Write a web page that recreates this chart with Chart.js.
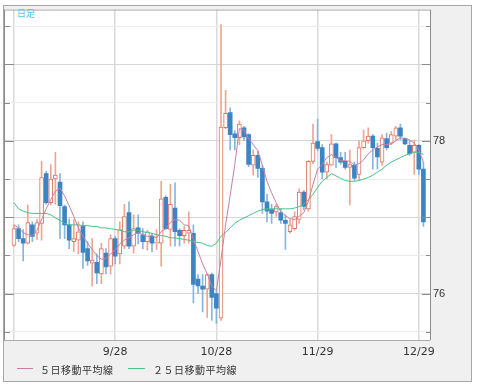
<!DOCTYPE html>
<html>
<head>
<meta charset="utf-8">
<script src="https://cdn.jsdelivr.net/npm/chart.js@4"></script>
<style>
html,body{margin:0;padding:0;background:#fff;}
#wrap{position:relative;width:478px;height:387px;}
#c{position:absolute;left:0;top:0;}
.lbl{position:absolute;font-family:"Noto Sans CJK JP";color:#333;white-space:nowrap;line-height:12px;}
.ln{position:absolute;height:1px;}
</style>
</head>
<body>
<div id="wrap">
  <canvas id="c" width="478" height="387"></canvas>
  <div class="lbl" style="left:17px;top:9px;font-size:9px;line-height:10px;color:#4fc0f0">日足</div>
  <div class="ln" style="left:17px;top:368px;width:16px;background:#c97fa2"></div>
  <div class="lbl" style="left:40px;top:364px;font-size:10px;letter-spacing:0.5px">５日移動平均線</div>
  <div class="ln" style="left:128px;top:368px;width:17px;background:#45c487"></div>
  <div class="lbl" style="left:153px;top:364px;font-size:10px;letter-spacing:0.5px">２５日移動平均線</div>
</div>
<script>
// daily candles, index 0 = first day on the chart
const opens = [76.63,76.85,76.72,76.66,76.90,76.79,76.92,77.57,77.19,77.50,
  77.46,77.14,76.90,76.68,76.70,76.88,76.59,76.40,76.41,76.26,
  76.53,76.36,76.72,76.52,76.62,77.06,76.62,76.86,76.77,76.68,
  76.75,76.66,76.66,77.26,76.84,77.12,76.83,76.76,76.79,76.79,
  76.19,76.10,76.06,76.25,76.00,75.68,78.17,78.37,78.09,78.04,
  78.17,78.08,77.68,77.81,77.64,77.20,77.10,77.07,77.06,76.96,
  76.81,76.85,76.97,77.33,77.11,77.73,77.99,77.91,77.59,77.68,
  77.96,77.78,77.73,77.65,77.68,77.56,77.91,78.00,78.06,77.90,
  77.72,78.03,77.97,78.06,78.17,78.03,77.94,77.85,77.94,77.63];
const highs = [76.90,76.90,76.84,77.16,76.94,76.97,77.73,77.60,77.69,77.85,
  77.57,77.16,76.98,76.97,76.94,76.94,76.68,76.72,76.52,76.66,
  76.59,76.77,76.75,76.94,77.17,77.20,77.03,77.03,76.85,76.83,
  76.79,76.84,77.47,77.28,77.43,77.45,76.85,76.88,77.07,76.90,
  76.25,76.25,76.26,76.27,76.04,79.52,78.66,78.43,78.13,78.26,
  78.19,78.09,77.88,77.87,77.68,77.30,77.17,77.17,77.11,77.03,
  76.97,77.07,77.37,77.35,77.74,78.22,78.28,77.95,77.72,78.08,
  77.97,77.85,77.85,77.88,77.72,78.00,78.14,78.17,78.08,77.97,
  78.08,78.10,78.12,78.19,78.22,78.04,78.00,78.01,77.95,77.72];
const lows = [76.62,76.68,76.43,76.65,76.68,76.71,76.70,77.17,77.16,77.17,
  76.72,76.72,76.59,76.55,76.52,76.33,76.37,76.10,76.13,76.13,
  76.26,76.26,76.39,76.39,76.59,76.59,76.53,76.65,76.59,76.57,
  76.55,76.58,76.36,76.84,76.62,76.62,76.62,76.66,76.66,75.88,
  76.00,75.76,75.69,75.65,75.61,75.65,78.16,77.88,77.88,77.95,
  78.00,77.66,77.55,77.52,77.05,76.94,76.92,77.01,76.92,76.58,
  76.79,76.83,76.92,77.10,77.08,77.70,77.87,77.50,77.50,77.68,
  77.65,77.69,77.63,77.16,77.48,77.48,77.90,77.97,77.63,77.63,
  77.68,77.88,77.95,78.01,78.01,77.95,77.81,77.56,77.56,76.88];
const closes = [76.85,76.72,76.66,76.93,76.75,76.93,77.52,77.19,77.50,77.55,
  77.15,76.90,76.70,76.72,76.81,76.54,76.43,76.44,76.27,76.59,
  76.35,76.72,76.49,76.84,77.01,76.62,76.85,76.79,76.68,76.81,
  76.66,76.67,77.24,76.85,77.17,76.81,76.76,76.83,76.83,76.12,
  76.10,76.06,76.25,75.95,75.81,78.18,78.36,78.08,78.04,78.22,
  78.05,77.69,77.81,77.64,77.20,77.08,77.05,77.14,76.96,76.92,
  76.90,77.01,77.33,77.14,77.73,77.97,77.90,77.59,77.69,77.96,
  77.78,77.72,77.65,77.69,77.51,77.91,78.00,78.06,77.91,77.79,
  78.04,77.91,78.08,78.17,78.06,77.96,77.83,77.94,77.63,76.94];

// moving averages as drawn
const ma5 = [76.90,76.86,76.80,76.77,76.76,76.83,76.97,77.11,77.23,77.34,
  77.38,77.28,77.15,77.01,76.86,76.75,76.66,76.58,76.50,76.45,
  76.46,76.52,76.57,76.65,76.70,76.73,76.77,76.80,76.77,76.75,
  76.76,76.73,76.81,76.85,76.93,76.97,76.96,76.90,76.89,76.71,
  76.55,76.39,76.26,76.10,76.04,76.45,76.90,77.29,77.69,78.16,
  78.14,78.03,77.95,77.87,77.68,77.47,77.32,77.19,77.07,77.02,
  76.98,76.97,77.01,77.06,77.21,77.43,77.63,77.69,77.78,77.82,
  77.78,77.74,77.74,77.73,77.68,77.70,77.75,77.83,77.88,77.92,
  77.95,77.95,77.96,78.00,78.04,78.03,78.01,77.97,77.88,77.72];
const ma25 = [77.19,77.11,77.08,77.06,77.05,77.05,77.05,77.05,77.03,76.99,
  76.96,76.92,76.90,76.90,76.90,76.89,76.89,76.88,76.88,76.86,
  76.86,76.85,76.84,76.83,76.81,76.81,76.83,76.83,76.81,76.80,
  76.79,76.77,76.76,76.75,76.73,76.73,76.72,76.71,76.70,76.68,
  76.67,76.66,76.63,76.62,76.66,76.75,76.80,76.86,76.92,76.96,
  76.99,77.02,77.05,77.08,77.10,77.11,77.11,77.11,77.11,77.11,
  77.11,77.12,77.14,77.17,77.23,77.30,77.39,77.47,77.52,77.57,
  77.54,77.51,77.48,77.47,77.47,77.48,77.50,77.52,77.55,77.59,
  77.63,77.68,77.72,77.75,77.78,77.81,77.83,77.85,77.85,77.82];

const tickIdx = [0, 22, 44, 66, 88];
const tickLabels = ["", "9/28", "10/28", "11/29", "12/29"];
const yTicks = [75.5, 76, 76.5, 77, 77.5, 78, 78.5, 79, 79.5];

const RED = "#e2735d", RED_W = "#eea595", BLUE = "#3d84c3", BLUE_W = "#86b5df";
const up = opens.map((o,i) => closes[i] >= o);

const wickData = opens.map((o,i) => ({x:i, y:[lows[i], highs[i]]}));
const bodyData = opens.map((o,i) => ({x:i, y:[o, closes[i]]}));

const frame = {
  id: "frame",
  beforeDraw(chart){
    const c = chart.ctx, a = chart.chartArea;
    c.save();
    c.fillStyle = "#fff"; c.fillRect(0,0,chart.width,chart.height);
    c.fillStyle = "#f0f0f0"; c.fillRect(3,5,468,376);
    c.fillStyle = "#fff"; c.fillRect(a.left,a.top,a.right-a.left,a.bottom-a.top);
    c.strokeStyle = "#a8a8a8"; c.lineWidth = 1;
    c.strokeRect(3.5,5.5,468,376);
    c.restore();
  },
  afterDraw(chart){
    const c = chart.ctx, a = chart.chartArea, ys = chart.scales.y;
    c.save();
    c.lineWidth = 1;
    c.strokeStyle = "#aaa";
    c.beginPath();
    c.moveTo(a.left, a.top+0.5); c.lineTo(a.right, a.top+0.5);
    c.moveTo(a.left, a.bottom+0.5); c.lineTo(a.right, a.bottom+0.5);
    c.stroke();
    c.strokeStyle = "#8c8c8c";
    c.beginPath();
    c.moveTo(a.left+0.5, a.top); c.lineTo(a.left+0.5, a.bottom);
    c.moveTo(a.right+0.5, a.top); c.lineTo(a.right+0.5, a.bottom);
    yTicks.forEach(v => {
      const y = Math.round(ys.getPixelForValue(v)) + 0.5;
      const big = Number.isInteger(v);
      c.moveTo(a.left, y); c.lineTo(a.left + (big ? 10 : 6), y);
      c.moveTo(a.right - (big ? 8 : 4), y); c.lineTo(a.right, y);
    });
    c.stroke();
    c.restore();
  }
};

new Chart(document.getElementById("c"), {
  type: "bar",
  data: {
    datasets: [
      {type:"line", label:"５日移動平均線", data: ma5.map((v,i)=>({x:i,y:v})),
       borderColor:"#c97fa2", borderWidth:1, pointRadius:0, tension:0, order:0},
      {type:"line", label:"２５日移動平均線", data: ma25.map((v,i)=>({x:i,y:v})),
       borderColor:"#45c487", borderWidth:1, pointRadius:0, tension:0, order:1},
      {label:"body", data: bodyData, grouped:false, barThickness:4,
       backgroundColor: up.map(u => u ? "#fff" : BLUE),
       borderColor: up.map(u => u ? RED : BLUE),
       borderWidth: up.map(u => u ? 1 : 0),
       borderSkipped:false, order:2},
      {label:"wick", data: wickData, grouped:false, barThickness:1,
       backgroundColor: up.map(u => u ? RED_W : BLUE_W), order:3}
    ]
  },
  options: {
    responsive:false,
    animation:false,
    layout:{padding:{left:4, top:5, right:7, bottom:6}},
    plugins:{legend:{display:false}, tooltip:{enabled:false}},
    scales:{
      x:{
        type:"linear", min:-2.17, max:90.43, offset:false,
        afterBuildTicks: s => { s.ticks = tickIdx.map(v => ({value:v})); },
        afterFit: s => { s.height = 41; },
        grid:{offset:false, color:"#dadada", lineWidth:1.5, drawTicks:false},
        border:{display:false},
        ticks:{autoSkip:false, maxRotation:0, padding:6, color:"#333",
               font:{family:"DejaVu Sans", size:11},
               callback:(v, i) => tickLabels[i]}
      },
      y:{
        type:"linear", position:"right", min:75.394, max:79.716,
        afterBuildTicks: s => { s.ticks = yTicks.map(v => ({value:v})); },
        afterFit: s => { s.width = 41; },
        grid:{drawTicks:false,
              color: ctx => (ctx.tick && Number.isInteger(ctx.tick.value)) ? "#d6d6d6" : "#ececec"},
        border:{display:false},
        ticks:{autoSkip:false, padding:3, color:"#333",
               font:{family:"Liberation Sans", size:11},
               callback: v => (v % 2 === 0 ? String(v) : "")}
      }
    }
  },
  plugins:[frame]
});
</script>
</body>
</html>
